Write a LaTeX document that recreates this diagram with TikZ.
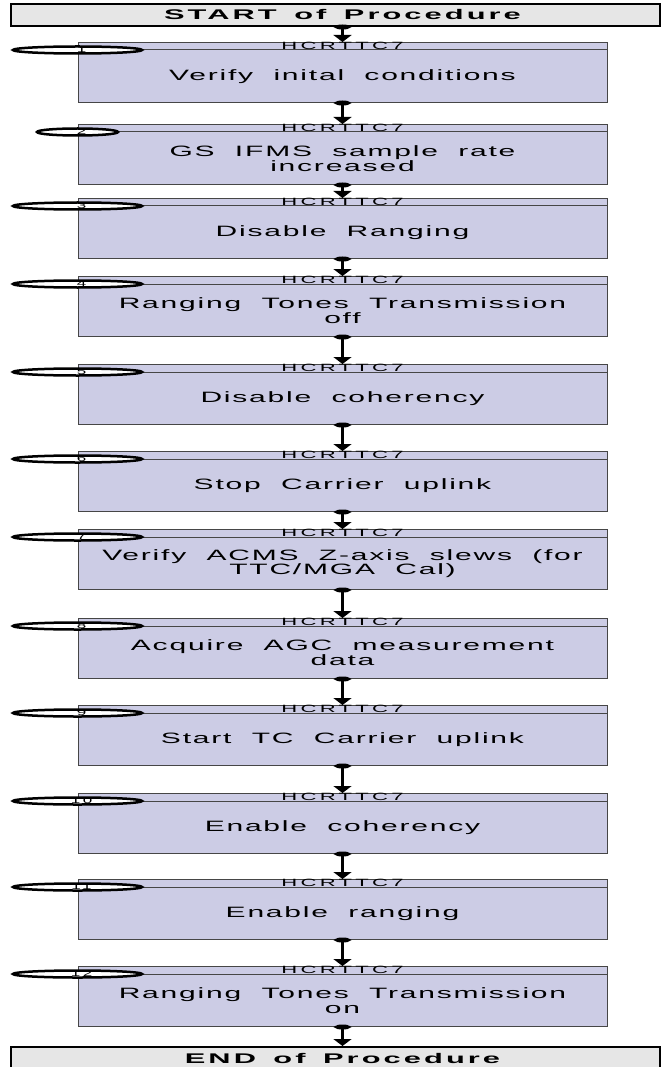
\documentclass[tikz,border=0pt]{standalone}
\usepackage{fontspec}
\setmainfont{Liberation Sans}
\newfontfamily\stepfont[LetterSpace=6,WordSpace=2]{Liberation Sans}
\newfontfamily\tagfont[LetterSpace=15]{Liberation Sans}
\newfontfamily\termfont[LetterSpace=10,WordSpace=1.5]{Liberation Sans Bold}
\usepackage{xcolor}
\usetikzlibrary{arrows.meta}
\usetikzlibrary{shapes.geometric}
\usetikzlibrary{positioning}
\definecolor{boxfill}{RGB}{204,204,229}
\definecolor{boxline}{RGB}{70,70,70}
\definecolor{termfill}{RGB}{230,230,230}
\tikzset{
  stepbox/.style={draw=boxline, line width=1pt, fill=boxfill, minimum width=529pt, minimum height=60pt, inner sep=0pt},
  steptext/.style={font=\stepfont\fontsize{15}{14.5}\selectfont, xscale=2.0, align=center, inner sep=0pt},
  tagtext/.style={font=\tagfont\fontsize{10.5}{10.5}\selectfont, xscale=2.1, inner sep=0pt},
  tagoval/.style={ellipse, draw=black, line width=2.5pt, fill=white, minimum height=7pt, inner sep=0pt},
  tagnum/.style={font=\tagfont\fontsize{8.5}{8.5}\selectfont, xscale=2.0, inner sep=0pt},
  termbox/.style={draw=black, line width=2pt, fill=termfill, minimum width=649pt, minimum height=22pt, inner sep=0pt, font=\termfont\fontsize{14}{14}\selectfont},
  flow/.style={line width=2.5pt, {Ellipse[length=5pt,width=15pt]}-{Triangle[length=7pt,width=18pt]}, shorten <=-2.5pt}
}

\begin{document}
\begin{tikzpicture}[x=1pt, y=-1pt]
    \useasboundingbox (0,0) rectangle (662,1067);
    \node[termbox] (start) at (335.5,15) {\hspace{14pt}\scalebox{2.2}[1]{START of Procedure}};
    \node[termbox] (finish) at (335.5,1058) {\hspace{14pt}\scalebox{2.2}[1]{END of Procedure}};
    \foreach \n/\y/\w/\txt in {1/42/129/{Verify inital conditions},
        2/124/81/{GS IFMS sample rate\\increased},
        3/198/129/{Disable Ranging},
        4/276/129/{Ranging Tones Transmission\\off},
        5/364/129/{Disable coherency},
        6/451/129/{Stop Carrier uplink},
        7/529/129/{Verify ACMS Z-axis slews (for\\TTC/MGA Cal)},
        8/618/129/{Acquire AGC measurement\\data},
        9/705/129/{Start TC Carrier uplink},
        10/793/129/{Enable coherency},
        11/879/129/{Enable ranging},
        12/966/129/{Ranging Tones Transmission\\on}} {
      \node[stepbox, anchor=north] (s\n) at (342.5,\y) {};
      \draw[boxline, line width=1pt] ([yshift=-8pt]s\n.north west) coordinate (h\n) -- ([yshift=-8pt]s\n.north east);
      \node[tagtext] (c\n) at ([yshift=-4pt]s\n.north) {HCRTTC7};
      \node[steptext] (t\n) at ([yshift=-4pt]s\n.center) {\txt};
      \node[tagoval, minimum width=\w pt, label={[tagnum, yshift=0.5pt, xshift=2pt]center:\n}] (o\n) at (h\n) {};
    }
    \draw[flow] (start.south -| s1.north) -- (s1.north);
    \foreach \a [count=\b from 2] in {1,...,11}
      \draw[flow] (s\a.south) -- (s\b.north);
    \draw[flow] (s12.south) -- (s12.south |- finish.north);
\end{tikzpicture}
\end{document}
